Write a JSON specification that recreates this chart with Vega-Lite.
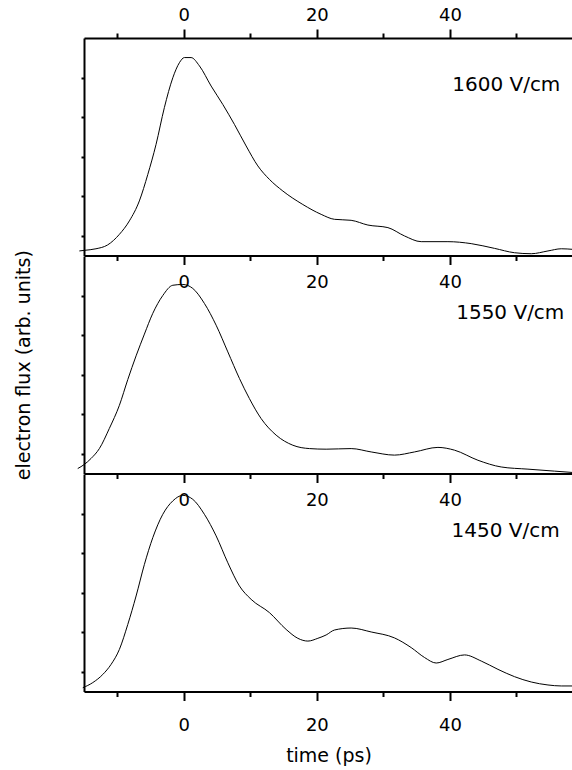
{
  "$schema": "https://vega.github.io/schema/vega-lite/v6.json",
  "padding": {"left": 14, "top": 6, "right": 0, "bottom": 4},
  "spacing": 0,
  "bounds": "flush",
  "config": {
    "view": {"stroke": null},
    "font": "DejaVu Sans",
    "axis": {
      "grid": false,
      "domainColor": "#000000",
      "domainWidth": 2,
      "tickColor": "#000000",
      "tickWidth": 2,
      "labelFont": "DejaVu Sans",
      "labelFontSize": 18,
      "labelColor": "#000000",
      "titleFont": "DejaVu Sans",
      "titleFontSize": 19,
      "titleFontWeight": "normal",
      "titleColor": "#000000"
    }
  },
  "datasets": {
    "f1600": [
      {"t": -15.7, "v": 0.23}, {"t": -14.95, "v": 0.26}, {"t": -13.2, "v": 0.34}, {"t": -11.47, "v": 0.53},
      {"t": -9.68, "v": 1.07}, {"t": -8.18, "v": 1.75}, {"t": -6.68, "v": 2.76}, {"t": -5.41, "v": 4.1},
      {"t": -4.17, "v": 5.62}, {"t": -2.92, "v": 7.48}, {"t": -1.65, "v": 8.99}, {"t": -0.66, "v": 9.75},
      {"t": 0.09, "v": 10.01}, {"t": 1.1, "v": 10.01}, {"t": 2.35, "v": 9.59}, {"t": 4.11, "v": 8.57},
      {"t": 5.86, "v": 7.64}, {"t": 7.61, "v": 6.63}, {"t": 9.37, "v": 5.54}, {"t": 11.13, "v": 4.53},
      {"t": 12.87, "v": 3.85}, {"t": 14.89, "v": 3.26}, {"t": 17.89, "v": 2.58}, {"t": 20.65, "v": 2.08},
      {"t": 22.65, "v": 1.83}, {"t": 25.15, "v": 1.78}, {"t": 27.67, "v": 1.54}, {"t": 30.68, "v": 1.41},
      {"t": 33.17, "v": 0.99}, {"t": 35.68, "v": 0.7}, {"t": 39.7, "v": 0.7}, {"t": 43.2, "v": 0.6},
      {"t": 46.71, "v": 0.36}, {"t": 49.71, "v": 0.14}, {"t": 52.23, "v": 0.09}, {"t": 54.74, "v": 0.23},
      {"t": 56.74, "v": 0.34}, {"t": 58.5, "v": 0.31}
    ],
    "f1550": [
      {"t": -15.94, "v": 0.25}, {"t": -14.95, "v": 0.46}, {"t": -13.94, "v": 0.76}, {"t": -12.69, "v": 1.26},
      {"t": -11.19, "v": 2.28}, {"t": -9.68, "v": 3.45}, {"t": -8.42, "v": 4.75}, {"t": -7.17, "v": 5.95},
      {"t": -5.92, "v": 7.05}, {"t": -4.66, "v": 8.1}, {"t": -3.16, "v": 9.0}, {"t": -1.65, "v": 9.52},
      {"t": -0.15, "v": 9.56}, {"t": 1.35, "v": 9.36}, {"t": 3.1, "v": 8.6}, {"t": 4.86, "v": 7.5},
      {"t": 6.62, "v": 6.15}, {"t": 8.36, "v": 4.81}, {"t": 9.86, "v": 3.79}, {"t": 11.62, "v": 2.78},
      {"t": 13.88, "v": 1.94}, {"t": 16.39, "v": 1.43}, {"t": 18.89, "v": 1.26}, {"t": 21.4, "v": 1.23},
      {"t": 25.16, "v": 1.26}, {"t": 28.17, "v": 1.09}, {"t": 31.67, "v": 0.93}, {"t": 34.68, "v": 1.09},
      {"t": 38.2, "v": 1.32}, {"t": 40.69, "v": 1.18}, {"t": 44.21, "v": 0.67}, {"t": 47.71, "v": 0.33},
      {"t": 51.73, "v": 0.22}, {"t": 55.73, "v": 0.12}, {"t": 58.5, "v": 0.05}
    ],
    "f1450": [
      {"t": -15.19, "v": 0.19}, {"t": -13.68, "v": 0.45}, {"t": -12.18, "v": 0.86}, {"t": -10.93, "v": 1.37},
      {"t": -9.68, "v": 2.13}, {"t": -8.42, "v": 3.39}, {"t": -7.17, "v": 4.83}, {"t": -5.92, "v": 6.43},
      {"t": -4.66, "v": 7.78}, {"t": -3.16, "v": 8.96}, {"t": -1.65, "v": 9.64}, {"t": -0.15, "v": 9.92},
      {"t": 1.35, "v": 9.72}, {"t": 3.1, "v": 8.96}, {"t": 4.86, "v": 7.87}, {"t": 6.62, "v": 6.51},
      {"t": 8.36, "v": 5.34}, {"t": 10.12, "v": 4.66}, {"t": 12.87, "v": 3.99}, {"t": 15.38, "v": 3.14},
      {"t": 17.14, "v": 2.69}, {"t": 18.65, "v": 2.55}, {"t": 20.15, "v": 2.69}, {"t": 21.4, "v": 2.86},
      {"t": 22.65, "v": 3.11}, {"t": 25.16, "v": 3.21}, {"t": 28.17, "v": 3.01}, {"t": 31.67, "v": 2.71},
      {"t": 34.18, "v": 2.22}, {"t": 36.18, "v": 1.72}, {"t": 37.94, "v": 1.44}, {"t": 39.7, "v": 1.62},
      {"t": 42.2, "v": 1.85}, {"t": 44.71, "v": 1.54}, {"t": 47.22, "v": 1.12}, {"t": 49.71, "v": 0.75},
      {"t": 52.23, "v": 0.48}, {"t": 54.74, "v": 0.33}, {"t": 56.74, "v": 0.28}, {"t": 58.5, "v": 0.28}
    ]
  },
  "vconcat": [
    {
      "width": 489,
      "height": 217.5,
      "resolve": {"axis": {"x": "independent"}},
      "layer": [
        {
          "data": {"name": "f1600"},
          "mark": {"type": "line", "color": "#000000", "strokeWidth": 1, "interpolate": "monotone", "clip": false},
          "encoding": {
            "x": {"field": "t", "type": "quantitative",
              "scale": {"domain": [-15, 58.5], "nice": false, "zero": false},
              "axis": {"orient": "bottom", "title": null, "values": [-10, 0, 10, 20, 30, 40, 50],
                "labelExpr": "datum.value % 20 === 0 ? datum.label : ''",
                "tickSize": {"condition": {"test": "datum.value % 20 === 0", "value": 9}, "value": 5},
                "labelPadding": 9, "labelOverlap": false, "labelFlush": false}},
            "y": {"field": "v", "type": "quantitative",
              "scale": {"domain": [0, 11], "nice": false, "zero": false},
              "axis": {"title": null, "labels": false, "values": [1, 2, 3, 4, 5, 6, 7, 8, 9, 10], "tickSize": 3}}
          }
        },
        {
          "data": {"values": [{"t": 56.6, "v": 8.32, "label": "1600 V/cm"}]},
          "mark": {"type": "text", "align": "right", "baseline": "alphabetic", "fontSize": 20, "font": "DejaVu Sans", "color": "#000000"},
          "encoding": {
            "x": {"field": "t", "type": "quantitative",
              "axis": {"orient": "top", "title": null, "values": [-10, 0, 10, 20, 30, 40, 50],
                "labelExpr": "datum.value % 20 === 0 ? datum.label : ''",
                "tickSize": {"condition": {"test": "datum.value % 20 === 0", "value": 9}, "value": 5},
                "labelPadding": 5, "labelOverlap": false, "labelFlush": false}},
            "y": {"field": "v", "type": "quantitative"},
            "text": {"field": "label"}
          }
        }
      ]
    },
    {
      "width": 489,
      "height": 217.5,
      "layer": [
        {
          "data": {"name": "f1550"},
          "mark": {"type": "line", "color": "#000000", "strokeWidth": 1, "interpolate": "monotone", "clip": false},
          "encoding": {
            "x": {"field": "t", "type": "quantitative",
              "scale": {"domain": [-15, 58.5], "nice": false, "zero": false},
              "axis": {"orient": "bottom", "title": null, "values": [-10, 0, 10, 20, 30, 40, 50],
                "labelExpr": "datum.value % 20 === 0 ? datum.label : ''",
                "tickSize": {"condition": {"test": "datum.value % 20 === 0", "value": 9}, "value": 5},
                "labelPadding": 9, "labelOverlap": false, "labelFlush": false}},
            "y": {"field": "v", "type": "quantitative",
              "scale": {"domain": [0, 11], "nice": false, "zero": false},
              "axis": {"title": "electron flux (arb. units)", "titlePadding": 47, "labels": false,
                "values": [1, 2, 3, 4, 5, 6, 7, 8, 9, 10], "tickSize": 3}}
          }
        },
        {
          "data": {"values": [{"t": 57.2, "v": 7.8, "label": "1550 V/cm"}]},
          "mark": {"type": "text", "align": "right", "baseline": "alphabetic", "fontSize": 20, "font": "DejaVu Sans", "color": "#000000"},
          "encoding": {
            "x": {"field": "t", "type": "quantitative"},
            "y": {"field": "v", "type": "quantitative"},
            "text": {"field": "label"}
          }
        }
      ]
    },
    {
      "width": 489,
      "height": 217.5,
      "layer": [
        {
          "data": {"name": "f1450"},
          "mark": {"type": "line", "color": "#000000", "strokeWidth": 1, "interpolate": "monotone", "clip": false},
          "encoding": {
            "x": {"field": "t", "type": "quantitative",
              "scale": {"domain": [-15, 58.5], "nice": false, "zero": false},
              "axis": {"orient": "bottom", "title": "time (ps)", "titlePadding": 12, "values": [-10, 0, 10, 20, 30, 40, 50],
                "labelExpr": "datum.value % 20 === 0 ? datum.label : ''",
                "tickSize": {"condition": {"test": "datum.value % 20 === 0", "value": 9}, "value": 5},
                "labelPadding": 16, "labelOverlap": false, "labelFlush": false}},
            "y": {"field": "v", "type": "quantitative",
              "scale": {"domain": [0, 11], "nice": false, "zero": false},
              "axis": {"title": null, "labels": false, "values": [1, 2, 3, 4, 5, 6, 7, 8, 9, 10], "tickSize": 3}}
          }
        },
        {
          "data": {"values": [{"t": 56.5, "v": 7.83, "label": "1450 V/cm"}]},
          "mark": {"type": "text", "align": "right", "baseline": "alphabetic", "fontSize": 20, "font": "DejaVu Sans", "color": "#000000"},
          "encoding": {
            "x": {"field": "t", "type": "quantitative"},
            "y": {"field": "v", "type": "quantitative"},
            "text": {"field": "label"}
          }
        }
      ]
    }
  ]
}
